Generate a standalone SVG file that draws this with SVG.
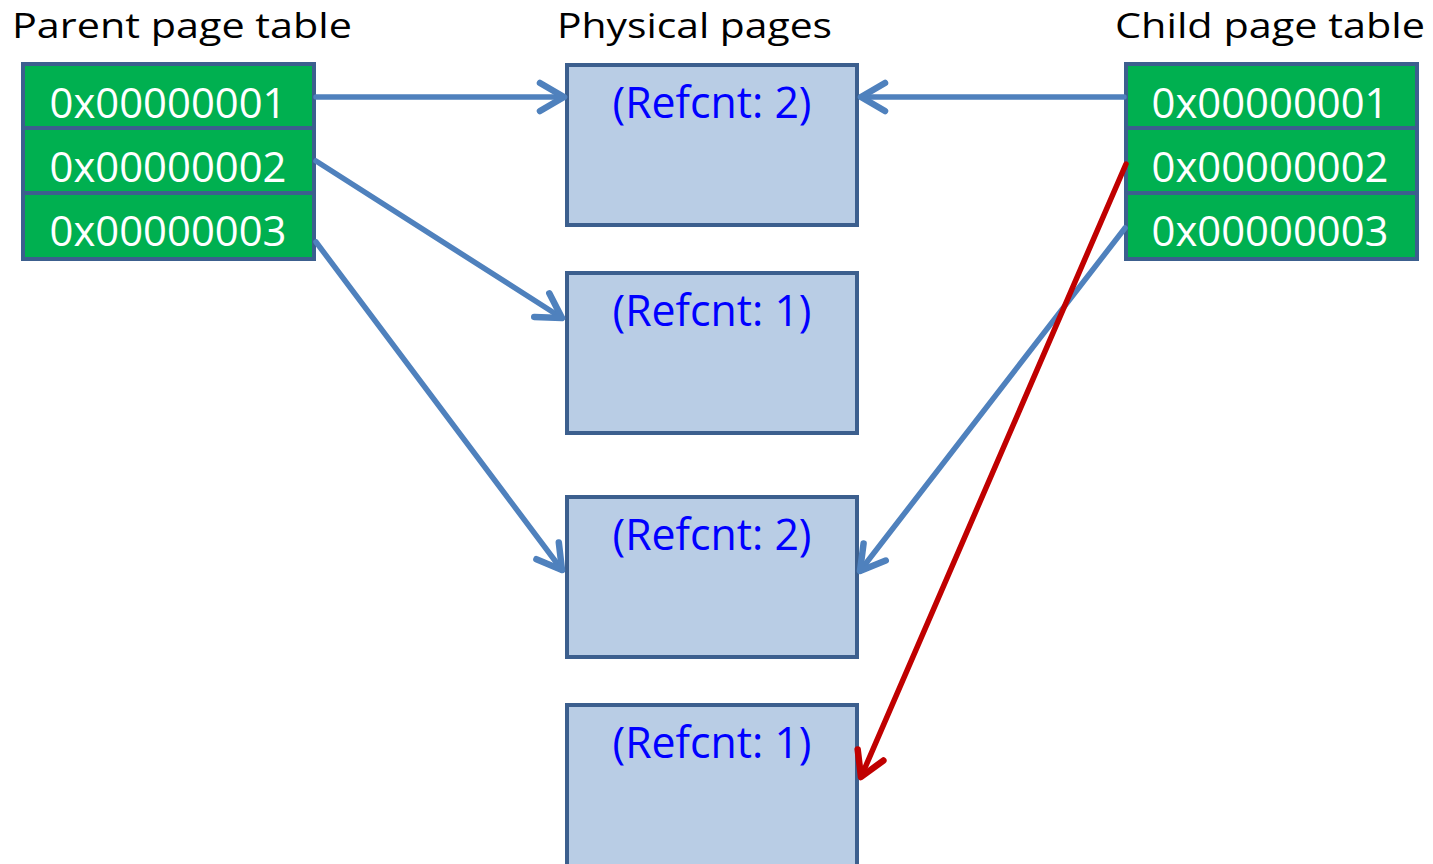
<svg xmlns="http://www.w3.org/2000/svg" width="1433" height="864" viewBox="0 0 1433 864">
<style>
.hdr{font-family:"Open Sans","Liberation Sans",sans-serif;font-size:35px;fill:#000}
.row{fill:#00b050;stroke:#3c5f8e;stroke-width:4}
.rt{font-family:"Open Sans","Liberation Sans",sans-serif;font-size:42px;fill:#fff;text-anchor:middle}
.pg{fill:#b9cde5;stroke:#3c5f8e;stroke-width:4}
.pt{font-family:"Open Sans","Liberation Sans",sans-serif;font-size:44px;fill:#0000ff;text-anchor:middle}
.cb{fill:none;stroke:#4f81bd;stroke-width:5.5;stroke-linecap:round}
.cr{fill:none;stroke:#c00000;stroke-width:5.5;stroke-linecap:round}
</style>
<defs>
<marker id="ab" markerUnits="userSpaceOnUse" viewBox="-30 -20 34 40" markerWidth="34" markerHeight="40" refX="0" refY="0" orient="auto">
<path d="M-24,-14 L0,0 L-24,14" fill="none" stroke="#4f81bd" stroke-width="6.5" stroke-linecap="round" stroke-linejoin="round"/>
</marker>
<marker id="ar" markerUnits="userSpaceOnUse" viewBox="-30 -20 34 40" markerWidth="34" markerHeight="40" refX="0" refY="0" orient="auto">
<path d="M-24,-14 L0,0 L-24,14" fill="none" stroke="#c00000" stroke-width="6.5" stroke-linecap="round" stroke-linejoin="round"/>
</marker>
</defs>
<rect width="1433" height="864" fill="#fff"/>
<text class="hdr" x="12" y="38" textLength="340" lengthAdjust="spacingAndGlyphs">Parent page table</text>
<text class="hdr" x="557" y="38" textLength="275" lengthAdjust="spacingAndGlyphs">Physical pages</text>
<text class="hdr" x="1115" y="38" textLength="310" lengthAdjust="spacingAndGlyphs">Child page table</text>
<g id="parent">
<rect class="row" x="23" y="64" width="291" height="64"/>
<rect class="row" x="23" y="128" width="291" height="65"/>
<rect class="row" x="23" y="193" width="291" height="66"/>
<text class="rt" x="168" y="118" textLength="237" lengthAdjust="spacingAndGlyphs">0x00000001</text>
<text class="rt" x="168" y="182" textLength="237" lengthAdjust="spacingAndGlyphs">0x00000002</text>
<text class="rt" x="168" y="246" textLength="237" lengthAdjust="spacingAndGlyphs">0x00000003</text>
</g>
<g id="child">
<rect class="row" x="1126" y="64" width="291" height="64"/>
<rect class="row" x="1126" y="128" width="291" height="65"/>
<rect class="row" x="1126" y="193" width="291" height="66"/>
<text class="rt" x="1270" y="118" textLength="237" lengthAdjust="spacingAndGlyphs">0x00000001</text>
<text class="rt" x="1270" y="182" textLength="237" lengthAdjust="spacingAndGlyphs">0x00000002</text>
<text class="rt" x="1270" y="246" textLength="237" lengthAdjust="spacingAndGlyphs">0x00000003</text>
</g>
<g id="page1">
<rect class="pg" x="567" y="65" width="290" height="160"/>
<text class="pt" x="712" y="118" textLength="199" lengthAdjust="spacingAndGlyphs">(Refcnt: 2)</text>
</g>
<g id="page2">
<rect class="pg" x="567" y="273" width="290" height="160"/>
<text class="pt" x="712" y="326" textLength="199" lengthAdjust="spacingAndGlyphs">(Refcnt: 1)</text>
</g>
<g id="page3">
<rect class="pg" x="567" y="497" width="290" height="160"/>
<text class="pt" x="712" y="550" textLength="199" lengthAdjust="spacingAndGlyphs">(Refcnt: 2)</text>
</g>
<g id="page4">
<rect class="pg" x="567" y="705" width="290" height="165"/>
<text class="pt" x="712" y="758" textLength="199" lengthAdjust="spacingAndGlyphs">(Refcnt: 1)</text>
</g>
<g id="connectors">
<line class="cb" x1="316" y1="97" x2="564" y2="97" marker-end="url(#ab)"/>
<line class="cb" x1="316" y1="161" x2="562" y2="318" marker-end="url(#ab)"/>
<line class="cb" x1="316" y1="242" x2="562" y2="570" marker-end="url(#ab)"/>
<line class="cb" x1="1124" y1="97" x2="861" y2="97" marker-end="url(#ab)"/>
<line class="cb" x1="1125" y1="228" x2="860" y2="571" marker-end="url(#ab)"/>
<line class="cr" x1="1126" y1="164" x2="861" y2="777" marker-end="url(#ar)"/>
</g>
</svg>
